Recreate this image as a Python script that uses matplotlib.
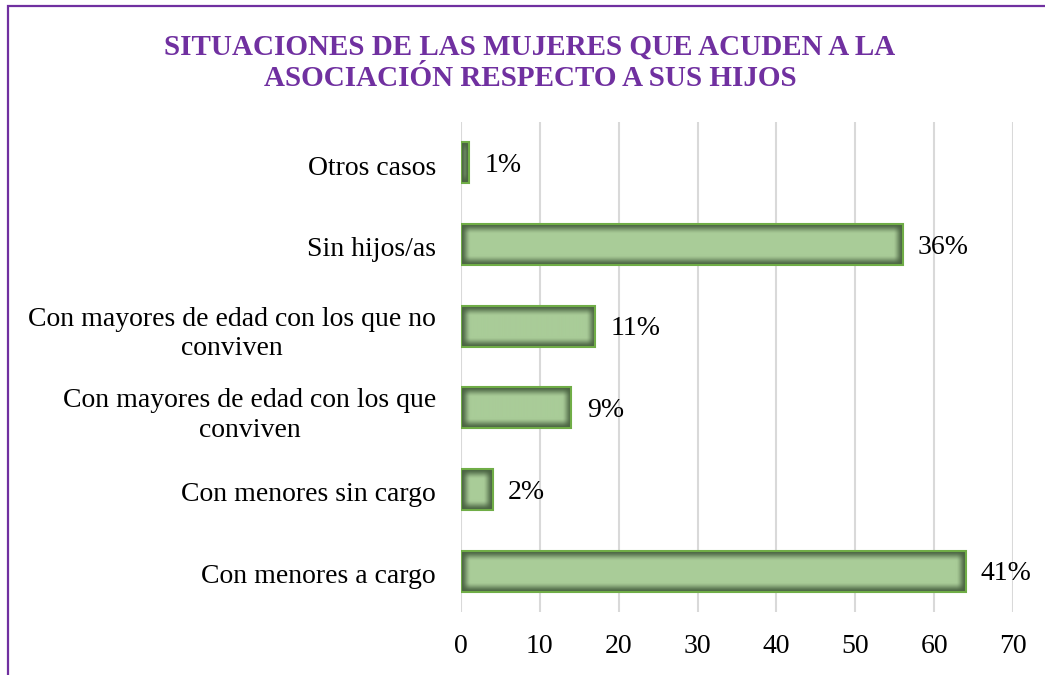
import numpy as np
import matplotlib
matplotlib.use("Agg")
import matplotlib.pyplot as plt
import matplotlib.transforms as mtransforms
from matplotlib.patches import Rectangle
from matplotlib.colors import to_rgb

plt.rcParams['font.family'] = ['Liberation Serif', 'DejaVu Serif']

# data (bottom to top)
categories = ["Con menores a cargo", "Con menores sin cargo",
              "Con mayores de edad con los que\nconviven",
              "Con mayores de edad con los que no\nconviven",
              "Sin hijos/as", "Otros casos"]
values = [64, 4, 14, 17, 56, 1]
pct_labels = ["41%", "2%", "9%", "11%", "36%", "1%"]
xticks = [0, 10, 20, 30, 40, 50, 60, 70]

W, H = 1045, 675
fig = plt.figure(figsize=(W / 100, H / 100), dpi=100)
ax = fig.add_axes([461 / W, 1 - 612 / H, (1013 - 461) / W, (612 - 122) / H])

bar_h = 0.5
ypos = np.arange(len(categories))

ax.set_xlim(0, 70)
ax.set_ylim(-0.5, len(categories) - 0.5)

# inner-shadow gradient fill for each bar
dark = np.array(to_rgb("#4a6342"))
light = np.array(to_rgb("#a9cc98"))
px_per_x = ax.bbox.width / 70
px_per_y = ax.bbox.height / len(categories)
shadow = 10.0


def smooth(t):
    t = np.clip(t, 0, 1)
    return t * t * (3 - 2 * t)


for y, v in zip(ypos, values):
    nx = max(int(round(v * px_per_x)), 2)
    ny = max(int(round(bar_h * px_per_y)), 2)
    xx = np.arange(nx) + 0.5
    yy = np.arange(ny) + 0.5
    gx = smooth(np.minimum(xx, nx - xx) / shadow)[None, :]
    gy = smooth(np.minimum(yy, ny - yy) / shadow)[:, None]
    f = gx * gy
    img = dark[None, None, :] + (light - dark)[None, None, :] * f[:, :, None]
    ax.imshow(img, extent=(0, v, y - bar_h / 2, y + bar_h / 2),
              aspect='auto', interpolation='bilinear', zorder=2)

bars = ax.barh(ypos, values, height=bar_h, facecolor='none',
               edgecolor='#70ad47', linewidth=1.5, zorder=3)

for b, lab in zip(bars, pct_labels):
    ax.annotate(lab, (b.get_width(), b.get_y() + b.get_height() / 2),
                xytext=(11, -2), textcoords='offset points',
                va='center', ha='left', fontsize=20, color='#000000')

ax.set_xlim(0, 70)
ax.set_ylim(-0.5, len(categories) - 0.5)
ax.set_xticks(xticks)
ax.set_yticks(ypos)
ax.set_yticklabels(categories, multialignment='center', linespacing=1.25)
ax.tick_params(axis='both', length=0, labelsize=20)
ax.tick_params(axis='x', pad=16)
ax.tick_params(axis='y', pad=18)
shift = mtransforms.ScaledTranslation(0, -2.5 / 100, fig.dpi_scale_trans)
for t in ax.get_yticklabels():
    t.set_transform(t.get_transform() + shift)
ax.grid(axis='x', color='#d9d9d9', linewidth=1.5, zorder=0)
ax.set_axisbelow(True)
for s in ax.spines.values():
    s.set_visible(False)

fig.text(530 / W, 1 - 63 / H,
         "SITUACIONES DE LAS MUJERES QUE ACUDEN A LA\nASOCIACIÓN RESPECTO A SUS HIJOS",
         ha='center', va='center', fontsize=21, fontweight='bold',
         color='#7030a0', linespacing=1.2)

frame = Rectangle((7.5 / W, -0.1), 1.2, 1 - 5.5 / H + 0.1, transform=fig.transFigure,
                  fill=False, edgecolor='#7030a0', linewidth=1.6, clip_on=False)
fig.patches.append(frame)

fig.savefig("out.png", dpi=100)
